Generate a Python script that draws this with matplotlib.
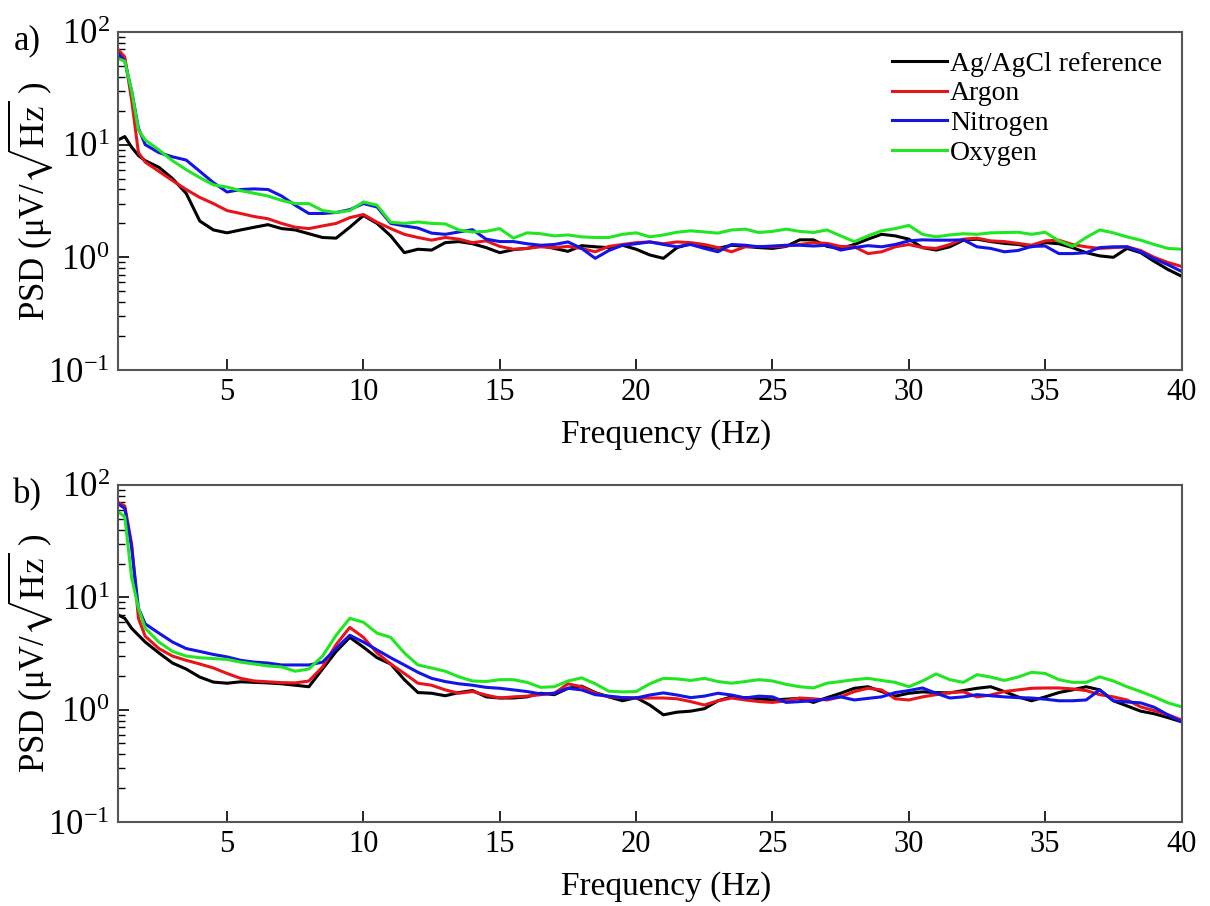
import numpy as np
import matplotlib
matplotlib.use("Agg")
from matplotlib import pyplot as plt
from matplotlib.ticker import LogLocator, NullFormatter, FixedLocator

plt.rcParams['font.family'] = ['Liberation Serif', 'DejaVu Serif']
plt.rcParams['mathtext.fontset'] = 'stix'

# frequency grid (Hz)
freq = [1, 1.25, 1.5, 1.75] + [2 + 0.5 * i for i in range(77)]

# ---- panel a) ----
a_agcl = [11, 11.8, 9.5, 8.0,
          7.2, 6.3, 5.0, 3.7, 2.1, 1.75, 1.65, 1.75, 1.85, 1.95, 1.8, 1.75, 1.62, 1.5, 1.48, 1.85,
          2.35, 2.0, 1.55, 1.1, 1.18, 1.16, 1.35, 1.38, 1.32, 1.22, 1.1, 1.17, 1.2, 1.27, 1.2, 1.13,
          1.27, 1.24, 1.22, 1.28, 1.18, 1.05, 0.98, 1.22, 1.32, 1.25, 1.2, 1.28, 1.25, 1.22, 1.2,
          1.25, 1.43, 1.43, 1.25, 1.2, 1.3, 1.45, 1.6, 1.55, 1.45, 1.22, 1.16, 1.24, 1.42, 1.45,
          1.38, 1.33, 1.3, 1.24, 1.35, 1.32, 1.22, 1.1, 1.03, 1.0, 1.2, 1.1, 0.92, 0.78, 0.68]
a_argon = [70, 60, 25, 8.5,
           7.0, 5.8, 4.8, 4.0, 3.4, 3.0, 2.6, 2.45, 2.3, 2.2, 2.0, 1.85, 1.8, 1.9, 2.0, 2.25,
           2.4, 2.05, 1.8, 1.6, 1.5, 1.42, 1.5, 1.45, 1.35, 1.4, 1.25, 1.18, 1.2, 1.24, 1.22, 1.25,
           1.2, 1.12, 1.25, 1.3, 1.35, 1.37, 1.32, 1.37, 1.35, 1.3, 1.22, 1.12, 1.24, 1.25, 1.24,
           1.26, 1.3, 1.35, 1.33, 1.25, 1.24, 1.08, 1.12, 1.24, 1.3, 1.22, 1.2, 1.3, 1.45, 1.48,
           1.4, 1.38, 1.33, 1.28, 1.4, 1.42, 1.3, 1.24, 1.2, 1.22, 1.24, 1.15, 1.0, 0.9, 0.83]
a_nitrogen = [65, 55, 30, 14,
              10, 8.5, 7.8, 7.3, 5.8, 4.6, 3.8, 4.0, 4.05, 4.0, 3.5, 2.9, 2.45, 2.45, 2.5, 2.65,
              3.0, 2.8, 2.0, 1.9, 1.82, 1.64, 1.6, 1.68, 1.76, 1.45, 1.38, 1.38, 1.32, 1.28, 1.3,
              1.37, 1.2, 0.98, 1.15, 1.28, 1.32, 1.37, 1.3, 1.24, 1.3, 1.2, 1.12, 1.3, 1.28, 1.24,
              1.26, 1.28, 1.28, 1.26, 1.28, 1.16, 1.22, 1.27, 1.24, 1.3, 1.4, 1.43, 1.42, 1.42,
              1.43, 1.24, 1.2, 1.12, 1.15, 1.25, 1.26, 1.08, 1.08, 1.1, 1.22, 1.24, 1.24, 1.12,
              0.97, 0.86, 0.75]
a_oxygen = [58, 55, 30, 13.5,
            11, 9.0, 7.2, 6.0, 5.1, 4.4, 4.2, 3.9, 3.7, 3.5, 3.2, 3.0, 3.0, 2.6, 2.5, 2.6,
            3.1, 2.9, 2.05, 2.0, 2.06, 2.0, 1.98, 1.75, 1.68, 1.7, 1.8, 1.48, 1.65, 1.62, 1.55,
            1.58, 1.52, 1.5, 1.5, 1.6, 1.65, 1.52, 1.58, 1.67, 1.72, 1.68, 1.64, 1.75, 1.78, 1.66,
            1.7, 1.78, 1.7, 1.66, 1.75, 1.55, 1.38, 1.55, 1.72, 1.8, 1.92, 1.6, 1.52, 1.58, 1.62,
            1.6, 1.65, 1.66, 1.67, 1.6, 1.67, 1.4, 1.25, 1.5, 1.75, 1.65, 1.52, 1.42, 1.3, 1.2, 1.18]

# ---- panel b) ----
b_agcl = [7.0, 6.5, 5.3, 4.6,
          4.0, 3.2, 2.6, 2.3, 1.95, 1.76, 1.72, 1.77, 1.75, 1.73, 1.7, 1.65, 1.6, 2.3, 3.3, 4.4,
          3.6, 2.9, 2.55, 1.85, 1.42, 1.4, 1.33, 1.42, 1.48, 1.3, 1.27, 1.27, 1.3, 1.4, 1.36,
          1.55, 1.62, 1.42, 1.3, 1.2, 1.28, 1.1, 0.9, 0.95, 0.97, 1.02, 1.2, 1.3, 1.28, 1.25,
          1.22, 1.24, 1.26, 1.16, 1.28, 1.4, 1.55, 1.6, 1.45, 1.32, 1.4, 1.44, 1.42, 1.41, 1.48,
          1.55, 1.6, 1.45, 1.3, 1.2, 1.3, 1.42, 1.5, 1.6, 1.5, 1.2, 1.08, 0.97, 0.92, 0.85, 0.78]
b_argon = [70, 65, 30, 6.5,
           4.5, 3.5, 3.0, 2.75, 2.55, 2.35, 2.1, 1.9, 1.8, 1.77, 1.74, 1.73, 1.8, 2.4, 3.8, 5.4,
           4.4, 3.2, 2.55, 2.1, 1.72, 1.65, 1.5, 1.4, 1.45, 1.35, 1.27, 1.3, 1.32, 1.36, 1.4,
           1.7, 1.6, 1.4, 1.3, 1.28, 1.27, 1.27, 1.27, 1.25, 1.18, 1.1, 1.2, 1.27, 1.22, 1.18,
           1.16, 1.2, 1.27, 1.25, 1.22, 1.3, 1.45, 1.55, 1.5, 1.25, 1.22, 1.3, 1.36, 1.42, 1.44,
           1.3, 1.35, 1.45, 1.5, 1.55, 1.56, 1.56, 1.53, 1.48, 1.36, 1.3, 1.22, 1.06, 0.98, 0.9, 0.81]
b_nitrogen = [68, 62, 28, 8,
              5.8, 4.8, 4.0, 3.5, 3.3, 3.1, 2.95, 2.75, 2.65, 2.6, 2.5, 2.5, 2.5, 2.65, 3.5, 4.6,
              4.0, 3.4, 2.9, 2.5, 2.15, 1.9, 1.78, 1.7, 1.65, 1.58, 1.55, 1.5, 1.45, 1.38, 1.4,
              1.55, 1.5, 1.36, 1.32, 1.28, 1.27, 1.35, 1.41, 1.35, 1.28, 1.32, 1.4, 1.35, 1.27,
              1.32, 1.3, 1.16, 1.18, 1.2, 1.25, 1.3, 1.22, 1.26, 1.3, 1.42, 1.48, 1.56, 1.4, 1.27,
              1.3, 1.36, 1.33, 1.3, 1.28, 1.27, 1.24, 1.2, 1.2, 1.22, 1.5, 1.2, 1.17, 1.15, 1.05,
              0.9, 0.78]
b_oxygen = [58, 52, 15, 8,
            5.3, 4.0, 3.3, 3.0, 2.9, 2.85, 2.8, 2.65, 2.55, 2.45, 2.4, 2.2, 2.3, 3.0, 4.6, 6.5,
            6.0, 4.8, 4.4, 3.2, 2.5, 2.35, 2.2, 1.96, 1.8, 1.78, 1.85, 1.85, 1.75, 1.58, 1.6, 1.8,
            1.92, 1.7, 1.46, 1.44, 1.45, 1.7, 1.9, 1.88, 1.82, 1.9, 1.78, 1.72, 1.78, 1.85, 1.8,
            1.68, 1.6, 1.56, 1.72, 1.78, 1.85, 1.9, 1.82, 1.75, 1.6, 1.8, 2.08, 1.85, 1.75, 2.05,
            1.95, 1.82, 1.95, 2.15, 2.1, 1.85, 1.75, 1.75, 1.96, 1.8, 1.6, 1.45, 1.3, 1.15, 1.06]

labels = ['Ag/AgCl reference', 'Argon', 'Nitrogen', 'Oxygen']
colors = ['#000000', '#e8141c', '#1414e6', '#22e622']

fig = plt.figure(figsize=(12.1, 9.06), dpi=100)
ax_a = fig.add_axes([0.0975, 0.5916, 0.879, 0.3731])
ax_b = fig.add_axes([0.0975, 0.0927, 0.879, 0.3720])

panels = [(ax_a, [a_agcl, a_argon, a_nitrogen, a_oxygen], 'a)'),
          (ax_b, [b_agcl, b_argon, b_nitrogen, b_oxygen], 'b)')]

for ax, series, tag in panels:
    for vals, c, lab in zip(series, colors, labels):
        ax.plot(freq, vals, color=c, lw=2.2, label=lab)
    ax.set_yscale('log')
    ax.set_xlim(1, 40)
    ax.set_ylim(0.1, 100)
    ax.xaxis.set_major_locator(FixedLocator([5, 10, 15, 20, 25, 30, 35, 40]))
    ax.yaxis.set_major_locator(LogLocator(base=10, numticks=10))
    ax.yaxis.set_minor_locator(LogLocator(base=10, subs=np.arange(2, 10), numticks=10))
    ax.yaxis.set_minor_formatter(NullFormatter())
    ax.tick_params(which='major', direction='in', length=8, width=1.2, pad=6)
    ax.tick_params(which='minor', direction='in', length=5, width=1.0)
    ax.tick_params(axis='x', labelsize=22)
    ax.tick_params(axis='y', labelsize=25)
    for s in ax.spines.values():
        s.set_color('#555555')
        s.set_linewidth(1.5)
    ax.set_xlabel('Frequency (Hz)', fontsize=24)
    ax.set_ylabel(r'PSD (μV/$\sqrt{\mathrm{Hz}}$ )', fontsize=25)
    ax.xaxis.set_label_coords(0.515, -0.145)
    ax.yaxis.set_label_coords(-0.059, 0.5)
    pos = ax.get_position()
    fig.text(0.011, pos.y1 + 0.008, tag, fontsize=25, va='top', ha='left')

ax_a.legend(loc='upper right', frameon=False, fontsize=20, handlelength=2.0,
            handletextpad=0.1, labelspacing=0.15, borderaxespad=0.3)

fig.savefig('out.png', dpi=100)
